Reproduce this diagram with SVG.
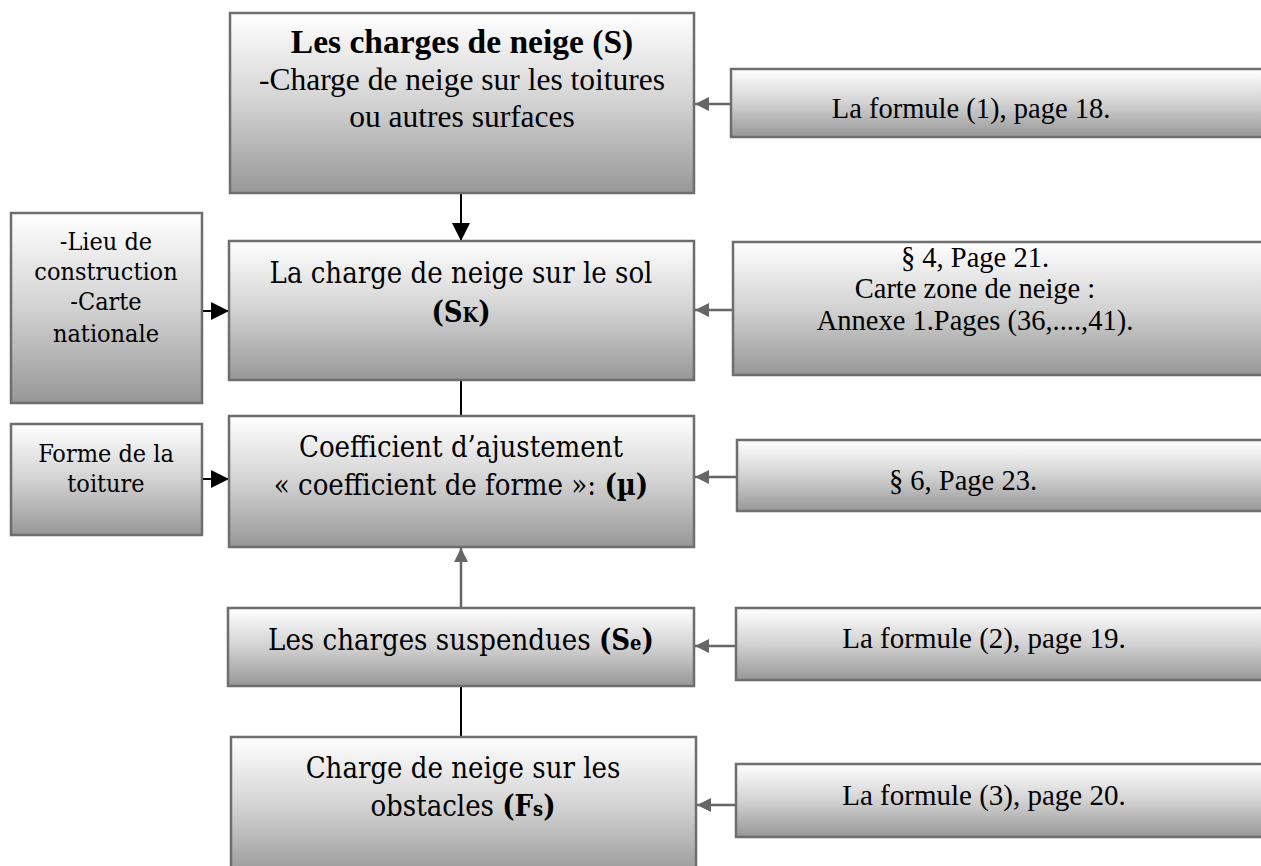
<svg xmlns="http://www.w3.org/2000/svg" width="1261" height="866" viewBox="0 0 1261 866">
<style>
.box{fill:url(#g);stroke:#6e6e6e;stroke-width:2.5}
.tr{font-family:"Liberation Serif",serif;fill:#000;text-anchor:middle}
.tc{font-family:"DejaVu Serif Condensed","DejaVu Serif",serif;font-stretch:condensed;fill:#000;text-anchor:middle}
.blk{stroke:#000;stroke-width:2;fill:none}
.gry{stroke:#666;stroke-width:2.5;fill:none}
</style>
<defs>
<linearGradient id="g" x1="0" y1="0" x2="0" y2="1">
<stop offset="0" stop-color="#ffffff"/>
<stop offset="0.5" stop-color="#d2d2d2"/>
<stop offset="1" stop-color="#979797"/>
</linearGradient>
<marker id="ab" markerUnits="userSpaceOnUse" markerWidth="18" markerHeight="18" viewBox="0 0 16 16" refX="16" refY="8" orient="auto">
<path d="M0,0 L16,8 L0,16 Z" fill="#000"/>
</marker>
<marker id="ag" markerUnits="userSpaceOnUse" markerWidth="14" markerHeight="14" viewBox="0 0 14 14" refX="14" refY="7" orient="auto">
<path d="M0,0 L14,7 L0,14 Z" fill="#666"/>
</marker>
</defs>

<g id="connectors">
<line class="blk" x1="461" y1="193" x2="461" y2="241" marker-end="url(#ab)"/>
<line class="blk" x1="461" y1="380" x2="461" y2="416"/>
<line class="gry" x1="461" y1="608" x2="461" y2="548" marker-end="url(#ag)"/>
<line class="blk" x1="461" y1="686" x2="461" y2="737"/>
<line class="blk" x1="202" y1="311" x2="229" y2="311" marker-end="url(#ab)"/>
<line class="blk" x1="202" y1="479" x2="229" y2="479" marker-end="url(#ab)"/>
<line class="gry" x1="731" y1="104" x2="695" y2="104" marker-end="url(#ag)"/>
<line class="gry" x1="733" y1="310" x2="695" y2="310" marker-end="url(#ag)"/>
<line class="gry" x1="737" y1="477" x2="695" y2="477" marker-end="url(#ag)"/>
<line class="gry" x1="736" y1="646" x2="695" y2="646" marker-end="url(#ag)"/>
<line class="gry" x1="736" y1="805" x2="697" y2="805" marker-end="url(#ag)"/>
</g>

<g id="n-S">
<rect class="box" x="230" y="13" width="464" height="180"/>
<text class="tr" x="462" y="53" font-size="33.5" font-weight="bold">Les charges de neige (S)</text>
<text class="tr" x="462" y="90" font-size="31.5">-Charge de neige sur les toitures</text>
<text class="tr" x="462" y="127" font-size="31.5">ou autres surfaces</text>
</g>

<g id="n-Sk">
<rect class="box" x="229" y="241" width="465" height="139"/>
<text class="tc" x="461" y="283" font-size="29">La charge de neige sur le sol</text>
<text class="tc" x="461" y="322" font-size="29" font-weight="bold">(S<tspan font-size="20">K</tspan>)</text>
</g>

<g id="n-mu">
<rect class="box" x="229" y="416" width="465" height="131"/>
<text class="tc" x="461" y="457" font-size="29">Coefficient d’ajustement</text>
<text class="tc" x="461" y="495" font-size="29">« coefficient de forme »: <tspan font-weight="bold">(µ)</tspan></text>
</g>

<g id="n-Se">
<rect class="box" x="228" y="608" width="466" height="78"/>
<text class="tc" x="461" y="650" font-size="29">Les charges suspendues <tspan font-weight="bold">(S<tspan font-size="20">e</tspan>)</tspan></text>
</g>

<g id="n-Fs">
<rect class="box" x="231" y="737" width="465" height="140"/>
<text class="tc" x="463" y="778" font-size="29">Charge de neige sur les</text>
<text class="tc" x="463" y="816" font-size="29">obstacles <tspan font-weight="bold">(F<tspan font-size="20">s</tspan>)</tspan></text>
</g>

<g id="n-lieu">
<rect class="box" x="11" y="213" width="191" height="190"/>
<text class="tc" x="106" y="250" font-size="25">-Lieu de</text>
<text class="tc" x="106" y="280" font-size="25">construction</text>
<text class="tc" x="106" y="310" font-size="25">-Carte</text>
<text class="tc" x="106" y="342" font-size="25">nationale</text>
</g>

<g id="n-forme">
<rect class="box" x="11" y="424" width="191" height="111"/>
<text class="tc" x="106" y="462" font-size="25">Forme de la</text>
<text class="tc" x="106" y="492" font-size="25">toiture</text>
</g>

<g id="r1">
<rect class="box" x="731" y="69" width="545" height="68"/>
<text class="tr" x="971" y="118" font-size="28.5">La formule (1), page 18.</text>
</g>

<g id="r2">
<rect class="box" x="733" y="242" width="545" height="133"/>
<text class="tr" x="975" y="267" font-size="28.5">§ 4, Page 21.</text>
<text class="tr" x="975" y="298" font-size="28.5">Carte zone de neige :</text>
<text class="tr" x="975" y="330" font-size="28.5">Annexe 1.Pages (36,....,41).</text>
</g>

<g id="r3">
<rect class="box" x="737" y="440" width="545" height="71"/>
<text class="tr" x="963" y="490" font-size="28.5">§ 6, Page 23.</text>
</g>

<g id="r4">
<rect class="box" x="736" y="608" width="545" height="72"/>
<text class="tr" x="984" y="648" font-size="29">La formule (2), page 19.</text>
</g>

<g id="r5">
<rect class="box" x="736" y="764" width="545" height="73"/>
<text class="tr" x="984" y="805" font-size="29">La formule (3), page 20.</text>
</g>
</svg>
